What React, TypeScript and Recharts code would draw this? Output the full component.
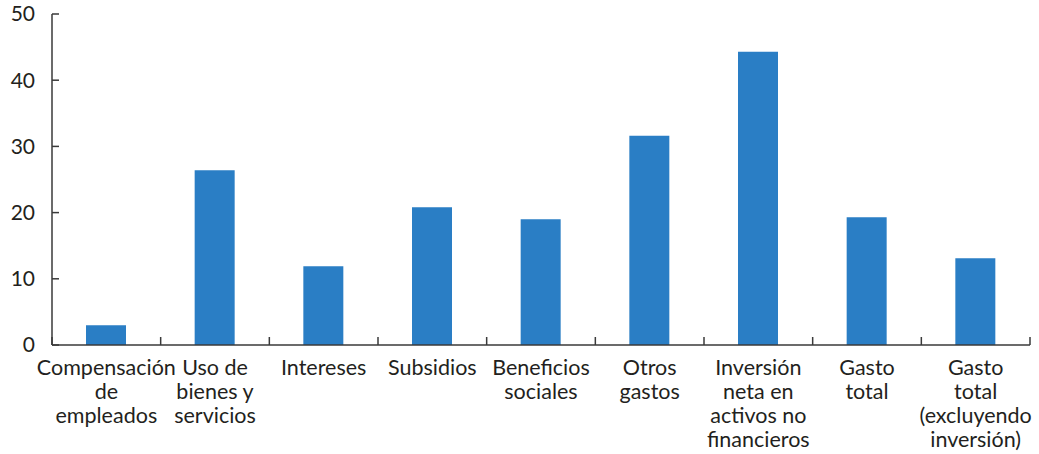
import { BarChart, Bar, XAxis, YAxis } from "recharts";

const categories = [
  "Compensación\nde\nempleados",
  "Uso de\nbienes y\nservicios",
  "Intereses",
  "Subsidios",
  "Beneficios\nsociales",
  "Otros\ngastos",
  "Inversión\nneta en\nactivos no\nfinancieros",
  "Gasto\ntotal",
  "Gasto\ntotal\n(excluyendo\ninversión)",
];
const values = [3.0, 26.4, 11.9, 20.8, 19.0, 31.6, 44.3, 19.3, 13.1];
const yTicks = [0, 10, 20, 30, 40, 50];

const data = categories.map((name, i) => ({ name, value: values[i] }));

const W = 1039;
const H = 454;
const LEFT = 52;
const RIGHT = 9;
const TOP = 14;
const XAXIS_H = 109;
const BAND = (W - LEFT - RIGHT) / categories.length;
const AXIS_Y = H - XAXIS_H;
const FONT = "Lato, 'Open Sans', sans-serif";
const TEXT = "#231f20";
const AXIS = "#3a3a3a";

function XTick(props: any) {
  const { x, payload, index } = props;
  const lines = String(payload.value).split("\n");
  const last = index === categories.length - 1;
  return (
    <g>
      <line x1={x - BAND / 2} x2={x - BAND / 2} y1={AXIS_Y} y2={AXIS_Y - 8} stroke={AXIS} strokeWidth={1.5} />
      {last && (
        <line x1={x + BAND / 2} x2={x + BAND / 2} y1={AXIS_Y} y2={AXIS_Y - 8} stroke={AXIS} strokeWidth={1.5} />
      )}
      <text textAnchor="middle" fontSize={21.5} fill={TEXT} fontFamily={FONT}>
        {lines.map((l, i) => (
          <tspan key={i} x={x} y={AXIS_Y + 30 + i * 24}>
            {l}
          </tspan>
        ))}
      </text>
    </g>
  );
}

export default function App() {
  return (
    <div style={{ position: "absolute", left: 0, top: 0, width: W, height: H, background: "#fff" }}>
      <BarChart
        width={W}
        height={H}
        data={data}
        margin={{ top: TOP, right: RIGHT, left: 0, bottom: 0 }}
        barCategoryGap={0}
      >
        <XAxis
          dataKey="name"
          height={XAXIS_H}
          interval={0}
          tickLine={false}
          axisLine={{ stroke: AXIS, strokeWidth: 1.5 }}
          tick={<XTick />}
        />
        <YAxis
          width={LEFT}
          domain={[0, 50]}
          ticks={yTicks}
          interval={0}
          tickSize={-7}
          tickMargin={24}
          tickLine={{ stroke: AXIS, strokeWidth: 1.5 }}
          axisLine={{ stroke: AXIS, strokeWidth: 1.5 }}
          tick={{ fill: TEXT, fontSize: 21, fontFamily: FONT }}
        />
        <Bar dataKey="value" fill="#2a7ec5" barSize={40} isAnimationActive={false} />
      </BarChart>
    </div>
  );
}
